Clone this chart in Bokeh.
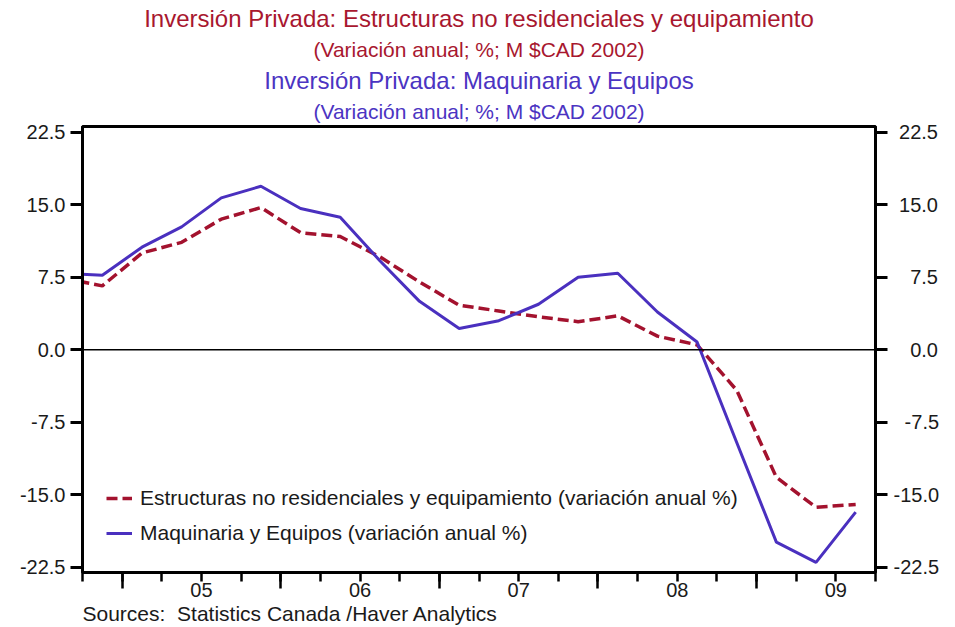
from bokeh.plotting import figure
from bokeh.models import (Range1d, LinearAxis, FixedTicker, NumeralTickFormatter, Span,
                          Title, Legend, LegendItem)
from bokeh.embed import file_html
from bokeh.resources import INLINE

# ---------------- data ----------------
quarters = ["2004Q3", "2004Q4",
            "2005Q1", "2005Q2", "2005Q3", "2005Q4",
            "2006Q1", "2006Q2", "2006Q3", "2006Q4",
            "2007Q1", "2007Q2", "2007Q3", "2007Q4",
            "2008Q1", "2008Q2", "2008Q3", "2008Q4",
            "2009Q1", "2009Q2", "2009Q3"]
estructuras = [7.4, 6.6, 10.0, 11.1, 13.5, 14.7, 12.1, 11.7, 9.6, 7.0,
               4.6, 4.0, 3.4, 2.9, 3.5, 1.4, 0.5, -4.2, -13.2, -16.3, -16.0]
maquinaria = [7.9, 7.7, 10.6, 12.7, 15.7, 16.9, 14.6, 13.7, 9.2, 5.0,
              2.2, 3.0, 4.7, 7.5, 7.9, 3.9, 0.8, -9.6, -19.9, -22.0, -16.8]
years = [2005, 2006, 2007, 2008, 2009]
year_labels = ["05", "06", "07", "08", "09"]
y_ticks = [-22.5, -15.0, -7.5, 0.0, 7.5, 15.0, 22.5]
y_tick_labels = ["-22.5", "-15.0", "-7.5", "0.0", "7.5", "15.0", "22.5"]

title1 = "Inversión Privada: Estructuras no residenciales y equipamiento"
title2 = "(Variación anual; %; M $CAD 2002)"
title3 = "Inversión Privada: Maquinaria y Equipos"
title4 = "(Variación anual; %; M $CAD 2002)"
legend1 = "Estructuras no residenciales y equipamiento (variación anual %)"
legend2 = "Maquinaria y Equipos (variación anual %)"
source_text = "Sources:\u00a0 Statistics Canada /Haver Analytics"

# ---------------- derived positions ----------------
q_start = [int(q[:4]) + (int(q[-1]) - 1) / 4 for q in quarters]
x_mid = [s + 0.125 for s in q_start]
q_bounds = q_start + [q_start[-1] + 0.25]

RED = "#A3122E"
BLUE = "#4A30BF"
RED_T = "#A8172F"
BLUE_T = "#4B34C2"
FONT = "Liberation Sans"
TXT = "#1a1a1a"

W, H = 955, 627
p = figure(width=W, height=H, output_backend="svg", toolbar_location=None, title=None,
           x_range=Range1d(2004.75, 2009.75), y_range=Range1d(-23.04, 23.08),
           x_axis_location=None, y_axis_location=None,
           min_border_left=82, min_border_right=80, min_border_top=126,
           min_border_bottom=55)
p.outline_line_color = "black"
p.outline_line_width = 3
p.background_fill_color = "white"
p.border_fill_color = "white"
p.grid.visible = False

# zero line
p.add_layout(Span(location=0, dimension="width", line_color="black", line_width=1.6))

r_red = p.line(x_mid, estructuras, line_color=RED, line_width=3.5, line_dash="11 5")
r_blue = p.line(x_mid, maquinaria, line_color=BLUE, line_width=3)

# ---------------- y axes ----------------
def yaxis(overrides, standoff):
    return LinearAxis(ticker=FixedTicker(ticks=y_ticks, minor_ticks=[]),
                      formatter=NumeralTickFormatter(format="0.0"),
                      major_label_overrides=overrides,
                      axis_line_width=3, major_tick_line_width=3,
                      major_tick_out=12, major_tick_in=0,
                      minor_tick_out=0, minor_tick_in=0,
                      major_label_standoff=standoff,
                      major_label_text_font=FONT,
                      major_label_text_font_size="20px",
                      major_label_text_color=TXT)

# right-hand labels are right-aligned in the reference: pad with fixed-width spaces
pad = {}
for t, s in zip(y_ticks, y_tick_labels):
    extra = ""
    if not s.startswith("-"):
        extra += "\u2008"
    if len(s.lstrip("-")) < 4:
        extra += "\u2007"
    pad[t] = extra + s

p.add_layout(yaxis({}, 5), "left")
p.add_layout(yaxis(pad, 6), "right")

# ---------------- x axes ----------------
xa = LinearAxis(ticker=FixedTicker(ticks=[float(y) for y in years], minor_ticks=q_bounds),
                major_label_overrides={float(y): "" for y in years},
                axis_line_width=3,
                major_tick_out=16, major_tick_in=0, major_tick_line_width=2.5,
                minor_tick_out=9, minor_tick_in=0, minor_tick_line_width=2.5,
                major_label_standoff=0, major_label_text_font_size="20px")
p.add_layout(xa, "below")

xb = LinearAxis(ticker=FixedTicker(ticks=[y + 0.5 for y in years], minor_ticks=[]),
                major_label_overrides={y + 0.5: lab for y, lab in zip(years, year_labels)},
                axis_line_color=None, major_tick_line_color=None, minor_tick_line_color=None,
                major_tick_out=0, major_tick_in=0, minor_tick_out=0, minor_tick_in=0,
                major_label_standoff=-6, major_label_text_font=FONT,
                major_label_text_font_size="20px", major_label_text_color=TXT)
p.add_layout(xb, "below")

p.add_layout(Title(text=source_text, align="left", text_font=FONT, text_font_size="21px",
                   text_font_style="normal", text_color=TXT, standoff=0), "below")

# ---------------- titles (first added sits nearest the frame) ----------------
for txt, size, col, so in [(title4, "21px", BLUE_T, 8), (title3, "24px", BLUE_T, 0),
                           (title2, "21px", RED_T, 8), (title1, "24px", RED_T, 0)]:
    p.add_layout(Title(text=txt, align="center", text_font=FONT, text_font_size=size,
                       text_font_style="normal", text_color=col, standoff=so), "above")

# ---------------- legend ----------------
legend = Legend(items=[LegendItem(label=legend1, renderers=[r_red]),
                       LegendItem(label=legend2, renderers=[r_blue])],
                location=(24, 27), orientation="vertical", padding=0, margin=0,
                spacing=11, glyph_width=26, glyph_height=24, label_height=24,
                label_standoff=8, label_text_font=FONT, label_text_font_size="21px",
                label_text_color=TXT, background_fill_alpha=0, border_line_alpha=0)
p.add_layout(legend)

open("out.html", "w").write(file_html(p, INLINE))
